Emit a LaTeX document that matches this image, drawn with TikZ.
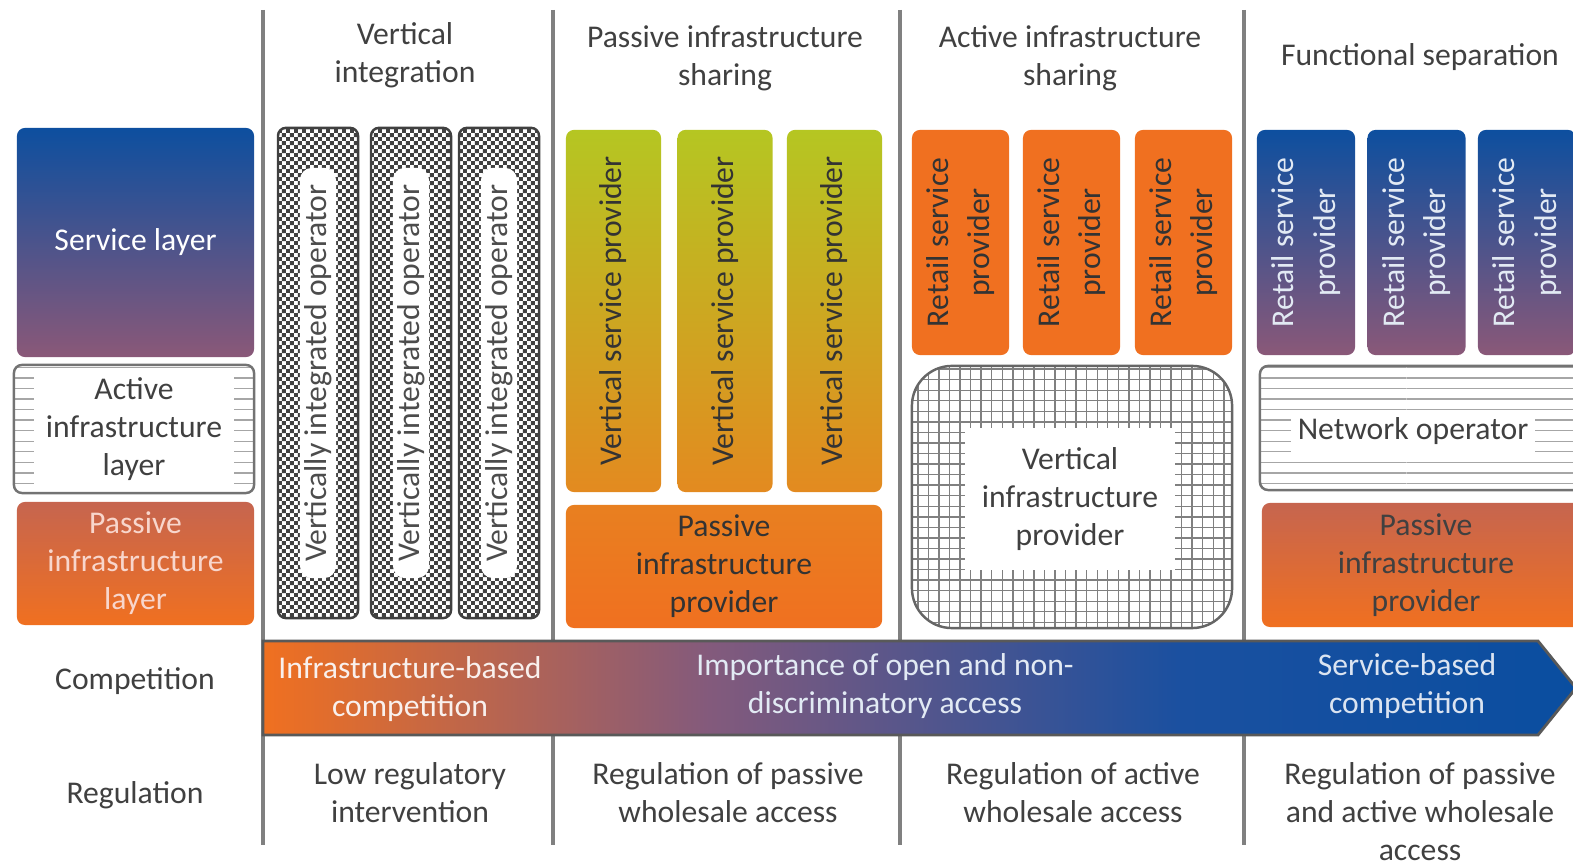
\documentclass[tikz,border=0pt]{standalone}
\usepackage{fontspec}
\setmainfont{Carlito}
\usepackage{xcolor}
\usepackage{tikz}
\usetikzlibrary{patterns,patterns.meta}
\definecolor{dgblue}{HTML}{0D4F9F}
\definecolor{dgmauve}{HTML}{8A5878}
\definecolor{dgrust}{HTML}{C6654F}
\definecolor{dgorange}{HTML}{F07020}
\definecolor{dglime}{HTML}{B5C622}
\definecolor{dgamber}{HTML}{E38A20}
\definecolor{dgtext}{HTML}{404040}
\definecolor{dgpink}{HTML}{F8D6CC}
\definecolor{dgbarmid}{HTML}{835A7C}
\definecolor{dgbarblue}{HTML}{1A50A0}
\definecolor{dgbarend}{HTML}{0A4EA0}

% Verlauf fuer den Wettbewerbspfeil
\pgfdeclarehorizontalshading{wettbewerb}{100bp}{color(0bp)=(dgorange); color(25bp)=(dgorange);
  color(42bp)=(dgbarmid); color(60bp)=(dgbarblue); color(75bp)=(dgbarend); color(100bp)=(dgbarend)}

% feines Schachbrett
\tikzdeclarepattern{
  name=feinkaro,
  type=uncolored,
  bottom left={(0pt,0pt)},
  top right={(2.4pt,2.4pt)},
  tile size={(2.4pt,2.4pt)},
  code={
    \fill (0pt,0pt) rectangle (1.2pt,1.2pt);
    \fill (1.2pt,1.2pt) rectangle (2.4pt,2.4pt);
  }
}

\begin{document}
\begin{tikzpicture}[x=0.01cm, y=-0.01cm,
  font=\fontsize{9pt}{10.8pt}\selectfont,
  every node/.style={text=dgtext, align=center},
  schicht/.style={rounded corners=0.08cm, inner sep=0pt},
  trenner/.style={draw=black!50, line width=0.9pt},
  vio/.style={schicht, draw=black!75, line width=0.7pt, pattern=feinkaro, pattern color=black!75,
    minimum width=0.8cm, minimum height=4.9cm},
  viotext/.style={rotate=90, fill=white, rounded corners=0.12cm, inner sep=0pt,
    minimum width=4.1cm, minimum height=0.36cm, text=black!70},
  vsp/.style={schicht, top color=dglime, bottom color=dgamber, minimum width=0.95cm, minimum height=3.62cm},
  rsporange/.style={schicht, fill=dgorange, minimum width=0.97cm, minimum height=2.25cm},
  rspblue/.style={schicht, top color=dgblue, bottom color=dgmauve, minimum width=0.98cm, minimum height=2.25cm},
  rottext/.style={rotate=90, text=black!80, font=\fontsize{9pt}{11.8pt}\selectfont},
  streifen/.style={schicht, draw=black!55, line width=0.7pt, pattern=horizontal lines, pattern color=black!35},
  bartext/.style={text=white!90!dgrust}]

  \useasboundingbox (0,0) rectangle (1573,865);
  \clip (0,0) rectangle (1573,865);

  % Spaltentrenner
  \draw[trenner] (263,10) -- (263,845);
  \draw[trenner] (553,10) -- (553,845);
  \draw[trenner] (900,10) -- (900,845);
  \draw[trenner] (1244,10) -- (1244,845);

  % Wettbewerbspfeil
  \path[shading=wettbewerb, draw=black!65, line width=0.8pt]
    (263,641) -- (1538,641) -- (1576,688) -- (1538,735) -- (263,735) -- cycle;

  % Ueberschriften
  \node (hvert) at (405,55) {Vertical\\integration};
  \node (hpass) at (725,58) {Passive infrastructure\\sharing};
  \node (hact) at (1070,58) {Active infrastructure\\sharing};
  \node (hfunc) at (1420,57) {Functional separation};

  % Schichten links
  \node[schicht, top color=dgblue, bottom color=dgmauve, minimum width=2.37cm, minimum height=2.29cm,
    text=white] (service) at (135.5,242.5) {Service layer};
  \node[streifen, minimum width=2.40cm, minimum height=1.28cm] (activebox) at (134,429) {};
  \node[fill=white, inner sep=0pt, minimum width=2.0cm, minimum height=1.2cm] (active) at (activebox)
    {Active\\infrastructure\\layer};
  \node[schicht, top color=dgrust, bottom color=dgorange, minimum width=2.37cm, minimum height=1.23cm,
    text=dgpink] (passive) at (135.5,563.5) {Passive\\infrastructure\\layer};
  \node (competition) at (135,681) {Competition};
  \node (regulation) at (135,795) {Regulation};

  % Vertikale Integration
  \node[vio] (vio1) at (318,373) {};
  \node[viotext] (vio1t) at (vio1) {Vertically integrated operator};
  \node[vio] (vio2) at (411,373) {};
  \node[viotext] (vio2t) at (vio2) {Vertically integrated operator};
  \node[vio] (vio3) at (499,373) {};
  \node[viotext] (vio3t) at (vio3) {Vertically integrated operator};

  % Passive Mitnutzung
  \node[vsp] (vsp1) at (613.5,311) {};
  \node[rottext] (vsp1t) at (vsp1) {Vertical service provider};
  \node[vsp] (vsp2) at (725,311) {};
  \node[rottext] (vsp2t) at (vsp2) {Vertical service provider};
  \node[vsp] (vsp3) at (834.5,311) {};
  \node[rottext] (vsp3t) at (vsp3) {Vertical service provider};
  \node[schicht, top color=dgamber!60!dgorange, bottom color=dgorange, minimum width=3.16cm,
    minimum height=1.23cm, text=black!80] (pip2) at (724,566.5) {Passive\\infrastructure\\provider};

  % Aktive Mitnutzung
  \node[rsporange] (rsp1) at (960.5,242.5) {};
  \node[rottext] (rsp1t) at (rsp1) {Retail service\\provider};
  \node[rsporange] (rsp2) at (1071.5,242.5) {};
  \node[rottext] (rsp2t) at (rsp2) {Retail service\\provider};
  \node[rsporange] (rsp3) at (1183.5,242.5) {};
  \node[rottext] (rsp3t) at (rsp3) {Retail service\\provider};
  \node[draw=black!60, line width=0.7pt, pattern=grid, pattern color=black!50, rounded corners=0.4cm,
    minimum width=3.2cm, minimum height=2.62cm] (vipbox) at (1072,497) {};
  \node[fill=white, inner sep=0pt, minimum width=2.1cm, minimum height=1.42cm] (vip) at (1070,499)
    {Vertical\\infrastructure\\provider};

  % Funktionale Trennung
  \node[rspblue] (rsp4) at (1306,242.5) {};
  \node[rottext, text=white!88!dgblue] (rsp4t) at (rsp4) {Retail service\\provider};
  \node[rspblue] (rsp5) at (1416.5,242.5) {};
  \node[rottext, text=white!88!dgblue] (rsp5t) at (rsp5) {Retail service\\provider};
  \node[rspblue] (rsp6) at (1527,242.5) {};
  \node[rottext, text=white!88!dgblue] (rsp6t) at (rsp6) {Retail service\\provider};
  \node[streifen, minimum width=3.30cm, minimum height=1.24cm] (netbox) at (1425,428) {};
  \node[fill=white, inner sep=2pt] (netop) at (1413,431) {Network operator};
  \node[schicht, top color=dgrust, bottom color=dgorange, minimum width=3.28cm, minimum height=1.24cm,
    text=black!75] (pip4) at (1426,565) {Passive\\infrastructure\\provider};

  % Texte im Pfeil
  \node[bartext] (infra) at (410,689) {Infrastructure-based\\competition};
  \node[bartext, text=white!88!dgblue] (open) at (885,686) {Importance of open and non-\\discriminatory access};
  \node[bartext, text=white!85!dgblue] (servbased) at (1407,686) {Service-based\\competition};

  % Regulierung
  \node (reg1) at (410,793) {Low regulatory\\intervention};
  \node (reg2) at (728,793) {Regulation of passive\\wholesale access};
  \node (reg3) at (1073,793) {Regulation of active\\wholesale access};
  \node (reg4) at (1420,812) {Regulation of passive\\and active wholesale\\access};
\end{tikzpicture}
\end{document}
